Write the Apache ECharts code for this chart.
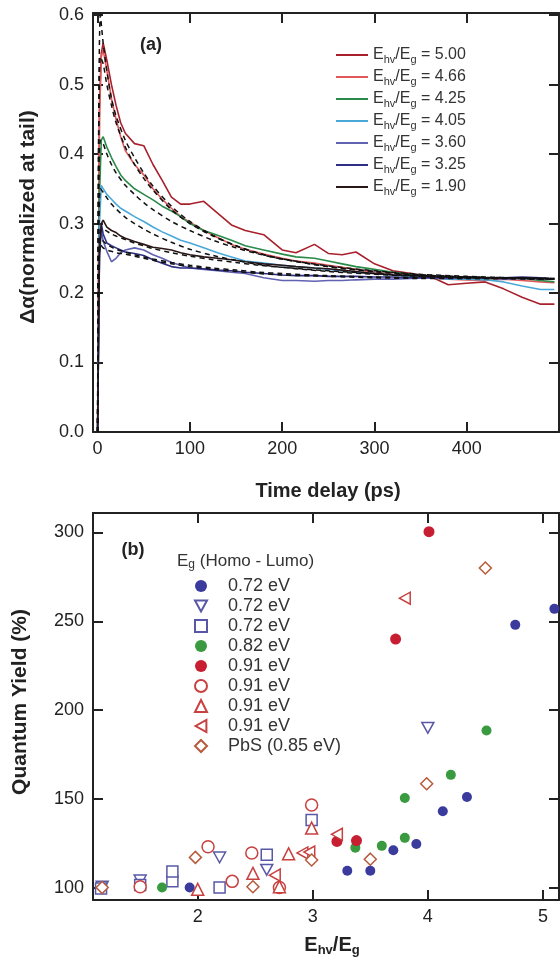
<!DOCTYPE html>
<html><head><meta charset="utf-8">
<script src="https://cdn.jsdelivr.net/npm/echarts@6/dist/echarts.min.js"></script>
<style>html,body{margin:0;padding:0;background:#fff}#c{width:560px;height:969px}</style>
</head><body><div id="c"></div>
<script>
// ---------- Panel (a) data ----------
const timeA = [0, 2, 4, 6, 10, 15, 20, 25, 30, 40, 50, 60, 70, 80, 90, 100, 115, 130, 145, 160, 180, 200, 215, 235, 250, 265, 280, 300, 320, 340, 360, 380, 400, 420, 440, 460, 480, 495];
const c500 = [0, 0.47, 0.545, 0.56, 0.535, 0.5, 0.47, 0.445, 0.43, 0.415, 0.412, 0.385, 0.362, 0.338, 0.328, 0.328, 0.332, 0.315, 0.298, 0.29, 0.284, 0.262, 0.258, 0.27, 0.257, 0.255, 0.259, 0.242, 0.232, 0.228, 0.224, 0.212, 0.214, 0.216, 0.206, 0.194, 0.184, 0.184];
const c466 = [0, 0.45, 0.54, 0.55, 0.52, 0.48, 0.45, 0.425, 0.405, 0.385, 0.37, 0.35, 0.335, 0.322, 0.31, 0.302, 0.29, 0.28, 0.27, 0.263, 0.256, 0.25, 0.246, 0.243, 0.24, 0.237, 0.234, 0.23, 0.227, 0.225, 0.222, 0.22, 0.219, 0.218, 0.22, 0.218, 0.216, 0.215];
const c425 = [0, 0.34, 0.42, 0.425, 0.41, 0.395, 0.382, 0.37, 0.362, 0.35, 0.342, 0.334, 0.325, 0.318, 0.31, 0.3, 0.29, 0.283, 0.276, 0.268, 0.262, 0.256, 0.252, 0.25, 0.246, 0.242, 0.238, 0.234, 0.23, 0.227, 0.224, 0.222, 0.222, 0.22, 0.222, 0.221, 0.218, 0.216];
const c405 = [0, 0.3, 0.355, 0.35, 0.342, 0.335, 0.328, 0.322, 0.318, 0.31, 0.303, 0.295, 0.288, 0.282, 0.276, 0.272, 0.265, 0.258, 0.252, 0.246, 0.243, 0.24, 0.238, 0.236, 0.234, 0.232, 0.23, 0.228, 0.226, 0.224, 0.222, 0.22, 0.22, 0.219, 0.216, 0.21, 0.205, 0.205];
const c360 = [0, 0.25, 0.29, 0.275, 0.26, 0.245, 0.25, 0.258, 0.262, 0.265, 0.262, 0.255, 0.25, 0.244, 0.24, 0.236, 0.234, 0.232, 0.23, 0.228, 0.222, 0.218, 0.218, 0.217, 0.218, 0.218, 0.219, 0.22, 0.22, 0.221, 0.222, 0.221, 0.222, 0.222, 0.22, 0.221, 0.22, 0.22];
const c325 = [0, 0.26, 0.3, 0.285, 0.272, 0.268, 0.265, 0.262, 0.259, 0.257, 0.254, 0.248, 0.243, 0.238, 0.236, 0.236, 0.235, 0.233, 0.232, 0.23, 0.228, 0.226, 0.225, 0.225, 0.224, 0.224, 0.224, 0.223, 0.223, 0.222, 0.222, 0.222, 0.223, 0.222, 0.222, 0.223, 0.222, 0.22];
const c190 = [0, 0.26, 0.3, 0.305, 0.295, 0.29, 0.287, 0.282, 0.279, 0.274, 0.27, 0.266, 0.264, 0.262, 0.258, 0.255, 0.252, 0.25, 0.248, 0.245, 0.242, 0.24, 0.238, 0.236, 0.235, 0.233, 0.231, 0.228, 0.226, 0.225, 0.224, 0.223, 0.222, 0.222, 0.222, 0.222, 0.221, 0.22];
// dashed fits
const timeF = [0, 1, 3, 6, 10, 15, 20, 30, 40, 50, 60, 80, 100, 125, 150, 175, 200, 250, 300, 350, 400, 450, 495];
const f500 = [0, 0.4, 0.6, 0.56, 0.52, 0.48, 0.455, 0.42, 0.395, 0.373, 0.354, 0.325, 0.303, 0.283, 0.268, 0.257, 0.249, 0.238, 0.231, 0.226, 0.223, 0.221, 0.22];
const f466 = [0, 0.4, 0.54, 0.53, 0.5, 0.47, 0.445, 0.41, 0.385, 0.365, 0.348, 0.32, 0.3, 0.282, 0.268, 0.257, 0.249, 0.238, 0.231, 0.226, 0.223, 0.221, 0.22];
const f425 = [0, 0.3, 0.42, 0.415, 0.4, 0.385, 0.373, 0.355, 0.342, 0.33, 0.32, 0.303, 0.29, 0.276, 0.265, 0.256, 0.249, 0.239, 0.232, 0.227, 0.224, 0.222, 0.221];
const f405 = [0, 0.25, 0.35, 0.345, 0.337, 0.328, 0.321, 0.309, 0.3, 0.292, 0.285, 0.273, 0.263, 0.254, 0.247, 0.241, 0.237, 0.231, 0.227, 0.224, 0.222, 0.221, 0.22];
const f190 = [0, 0.2, 0.29, 0.292, 0.289, 0.285, 0.282, 0.277, 0.272, 0.268, 0.264, 0.258, 0.253, 0.248, 0.244, 0.24, 0.237, 0.232, 0.228, 0.225, 0.223, 0.222, 0.221];
const f360 = [0, 0.2, 0.27, 0.265, 0.262, 0.26, 0.258, 0.256, 0.253, 0.25, 0.247, 0.242, 0.238, 0.234, 0.231, 0.228, 0.226, 0.224, 0.222, 0.221, 0.221, 0.221, 0.22];
const f325 = [0, 0.2, 0.28, 0.275, 0.27, 0.266, 0.263, 0.259, 0.255, 0.252, 0.249, 0.244, 0.24, 0.236, 0.233, 0.23, 0.228, 0.225, 0.223, 0.222, 0.221, 0.221, 0.22];
const ratiosA = ['5.00', '4.66', '4.25', '4.05', '3.60', '3.25', '1.90'];
const xTicksA = [0, 100, 200, 300, 400];
const yTicksA = [0, 0.1, 0.2, 0.3, 0.4, 0.5, 0.6];

// ---------- Panel (b) data ----------
const blueFilled = [[1.93,100],[3.30,109.5],[3.50,109.5],[3.70,121],[3.90,124.5],[4.13,143],[4.34,151],[4.76,248],[5.10,257]];
const blueDown = [[1.17,100.5],[1.5,104],[2.19,117],[2.60,110],[4.0,190]];
const blueSquare = [[1.16,99.5],[1.5,101.5],[1.78,103.5],[1.78,109],[2.19,100],[2.60,118.5],[2.99,138]];
const greenFilled = [[1.69,100],[3.37,122.5],[3.60,123.5],[3.80,128],[3.80,150.5],[4.20,163.5],[4.51,188.5]];
const redFilled = [[3.21,126],[3.38,126.5],[3.72,240],[4.01,300.5]];
const redCircle = [[1.5,100.5],[2.09,123],[2.30,103.5],[2.47,119.5],[2.71,100],[2.99,146.5]];
const redUp = [[2.0,99],[2.48,108],[2.79,119],[2.71,100.5],[2.99,133.5]];
const redLeft = [[2.67,107],[2.91,119.5],[2.97,120],[3.21,130],[3.8,263]];
const pbsDiamond = [[1.17,100],[1.98,117],[2.48,100.5],[2.99,115.5],[3.50,116],[3.99,158.5],[4.50,280]];
const labelsB = ['0.72 eV','0.72 eV','0.72 eV','0.82 eV','0.91 eV','0.91 eV','0.91 eV','0.91 eV','PbS (0.85 eV)'];
const xTicksB = [2, 3, 4, 5];
const yTicksB = [100, 150, 200, 250, 300];

const FONT = '"Liberation Sans", Arial, Helvetica, sans-serif';
const AX = '#222';
const zip = (t, v) => t.map((x, i) => [x, v[i]]);

const colorsA = ['#a8202c', '#e0585a', '#2a8a4a', '#4aa8d8', '#6262b2', '#2e2e86', '#2a1616'];
const curvesA = [c500, c466, c425, c405, c360, c325, c190];
const fitsA = [f500, f466, f425, f405, f360, f325, f190];

function axisCommon() {
  return {
    axisLine: { show: true, onZero: false, lineStyle: { color: AX, width: 2 } },
    splitLine: { show: false },
  };
}
function mkX(grid, min, max, ticks, pos, labels) {
  return Object.assign(axisCommon(), {
    type: 'value', gridIndex: grid, min, max, position: pos,
    axisTick: { show: true, inside: true, length: 10, customValues: ticks, lineStyle: { color: AX, width: 2 } },
    axisLabel: { show: labels, customValues: ticks, margin: 8, fontSize: 18, fontFamily: FONT, color: '#222' },
  });
}
function mkY(grid, min, max, ticks, pos, labels, fmt) {
  return Object.assign(axisCommon(), {
    type: 'value', gridIndex: grid, min, max, position: pos,
    axisTick: { show: true, inside: true, length: 10, customValues: ticks, lineStyle: { color: AX, width: 2 } },
    axisLabel: { show: labels, customValues: ticks, margin: 9, fontSize: 18, fontFamily: FONT, color: '#222', formatter: fmt },
  });
}

const series = [];
ratiosA.forEach((r, i) => {
  series.push({ name: r, type: 'line', xAxisIndex: 0, yAxisIndex: 0, data: zip(timeA, curvesA[i]),
    symbol: 'none', lineStyle: { color: colorsA[i], width: 1.6 }, itemStyle: { color: colorsA[i] }, z: 2, animation: false });
});
fitsA.forEach((f, i) => {
  series.push({ name: 'fit' + i, type: 'line', xAxisIndex: 0, yAxisIndex: 0, data: zip(timeF, f), smooth: 0.3,
    symbol: 'none', lineStyle: { color: '#111', width: 1.5, type: [5, 4] }, z: 3, animation: false });
});

const BLUE = '#3b3b9e', BLUEO = '#5858a6', GREEN = '#3a9a40', RED = '#c81e32', REDO = '#c8403f', PBS = '#b65a3c';
const DOWN = 'path://M0,0 L10,0 L5,9 Z';
const LEFT = 'path://M9,0 L9,10 L0,5 Z';
const bDefs = [
  { d: blueFilled, sym: 'circle', size: 10, fill: BLUE, stroke: BLUE },
  { d: blueDown, sym: DOWN, size: 12, fill: '#fff', stroke: BLUEO },
  { d: blueSquare, sym: 'rect', size: 11, fill: '#fff', stroke: BLUEO },
  { d: greenFilled, sym: 'circle', size: 10, fill: GREEN, stroke: GREEN },
  { d: redFilled, sym: 'circle', size: 11, fill: RED, stroke: RED },
  { d: redCircle, sym: 'circle', size: 12, fill: '#fff', stroke: REDO },
  { d: redUp, sym: 'triangle', size: 12, fill: '#fff', stroke: REDO },
  { d: redLeft, sym: LEFT, size: 12, fill: '#fff', stroke: REDO },
  { d: pbsDiamond, sym: 'diamond', size: 12, fill: '#fff', stroke: PBS },
];
bDefs.forEach((b, i) => {
  series.push({ name: 'b' + i, type: 'scatter', xAxisIndex: 2, yAxisIndex: 2, data: b.d,
    symbol: b.sym, symbolSize: b.size, symbolKeepAspect: true,
    itemStyle: { color: b.fill, borderColor: b.stroke, borderWidth: b.fill === '#fff' ? 1.5 : 0, opacity: 1 },
    z: 4, animation: false });
});

const legRichA = {
  e: { fontSize: 16, fontFamily: FONT, color: '#333', lineHeight: 20 },
  s: { fontSize: 11, fontFamily: FONT, color: '#333', lineHeight: 10, verticalAlign: 'bottom' },
};

const option = {
  backgroundColor: '#fff',
  animation: false,
  grid: [
    { left: 93, right: 1, top: 13, height: 419, containLabel: false },
    { left: 93, right: 1, top: 513, height: 387, containLabel: false },
  ],
  xAxis: [
    mkX(0, -5, 500, xTicksA, 'bottom', true),
    mkX(0, -5, 500, xTicksA, 'top', false),
    mkX(1, 1.09, 5.14, xTicksB, 'bottom', true),
    mkX(1, 1.09, 5.14, xTicksB, 'top', false),
  ],
  yAxis: [
    mkY(0, 0, 0.603, yTicksA, 'left', true, v => v.toFixed(1)),
    mkY(0, 0, 0.603, yTicksA, 'right', false),
    mkY(1, 93, 311, yTicksB, 'left', true, v => String(v)),
    mkY(1, 93, 311, yTicksB, 'right', false),
  ],
  legend: [
    {
      data: ratiosA.map(n => ({ name: n, icon: 'rect' })), orient: 'vertical', left: 331, top: 42, itemWidth: 32, itemHeight: 2, itemGap: 4,
      selectedMode: false, formatter: n => `{e|E}{s|hv}{e|/E}{s|g}{e| = ${n}}`,
      textStyle: { rich: legRichA, fontSize: 16, fontFamily: FONT, color: '#333' },
    },
    {
      data: bDefs.map((b, i) => 'b' + i), orient: 'vertical', left: 189, top: 571, itemWidth: 12, itemHeight: 12, itemGap: 0,
      selectedMode: false, symbolKeepAspect: true,
      formatter: n => `{p|}{t|${labelsB[+n.slice(1)]}}`,
      textStyle: { fontSize: 18, fontFamily: FONT, color: '#333', lineHeight: 20,
        rich: { p: { width: 16, lineHeight: 20 }, t: { fontSize: 18, fontFamily: FONT, color: '#333', lineHeight: 20 } } },
    },
  ],
  graphic: [
    { type: 'text', x: 151, y: 45, style: { text: '(a)', font: 'bold 18px ' + FONT, fill: '#222', align: 'center', verticalAlign: 'middle' } },
    { type: 'text', x: 133, y: 550, style: { text: '(b)', font: 'bold 18px ' + FONT, fill: '#222', align: 'center', verticalAlign: 'middle' } },
    { type: 'text', x: 328, y: 491, style: { text: 'Time delay (ps)', font: 'bold 20px ' + FONT, fill: '#222', align: 'center', verticalAlign: 'middle' } },
    { type: 'text', x: 28, y: 217, rotation: Math.PI / 2, style: { text: 'Δα(normalized at tail)', font: 'bold 21px ' + FONT, fill: '#222', align: 'center', verticalAlign: 'middle' } },
    { type: 'text', x: 20, y: 702, rotation: Math.PI / 2, style: { text: 'Quantum Yield (%)', font: 'bold 21px ' + FONT, fill: '#222', align: 'center', verticalAlign: 'middle' } },
    { type: 'text', x: 332, y: 945, style: { text: '{e|E}{s|hv}{e|/E}{s|g}', align: 'center', verticalAlign: 'middle',
        rich: { e: { fontSize: 20, fontWeight: 'bold', fontFamily: FONT, fill: '#222', color: '#222', lineHeight: 24 },
                s: { fontSize: 13, fontWeight: 'bold', fontFamily: FONT, fill: '#222', color: '#222', lineHeight: 12, verticalAlign: 'bottom' } } } },
    { type: 'text', x: 177, y: 561, style: { text: '{e|E}{s|g}{e| (Homo - Lumo)}', align: 'left', verticalAlign: 'middle',
        rich: { e: { fontSize: 17, fontFamily: FONT, fill: '#333', color: '#333', lineHeight: 20 },
                s: { fontSize: 12, fontFamily: FONT, fill: '#333', color: '#333', lineHeight: 10, verticalAlign: 'bottom' } } } },
  ],
  series,
};
const chart = echarts.init(document.getElementById('c'), null, { renderer: 'canvas' });
chart.setOption(option);
</script></body></html>
